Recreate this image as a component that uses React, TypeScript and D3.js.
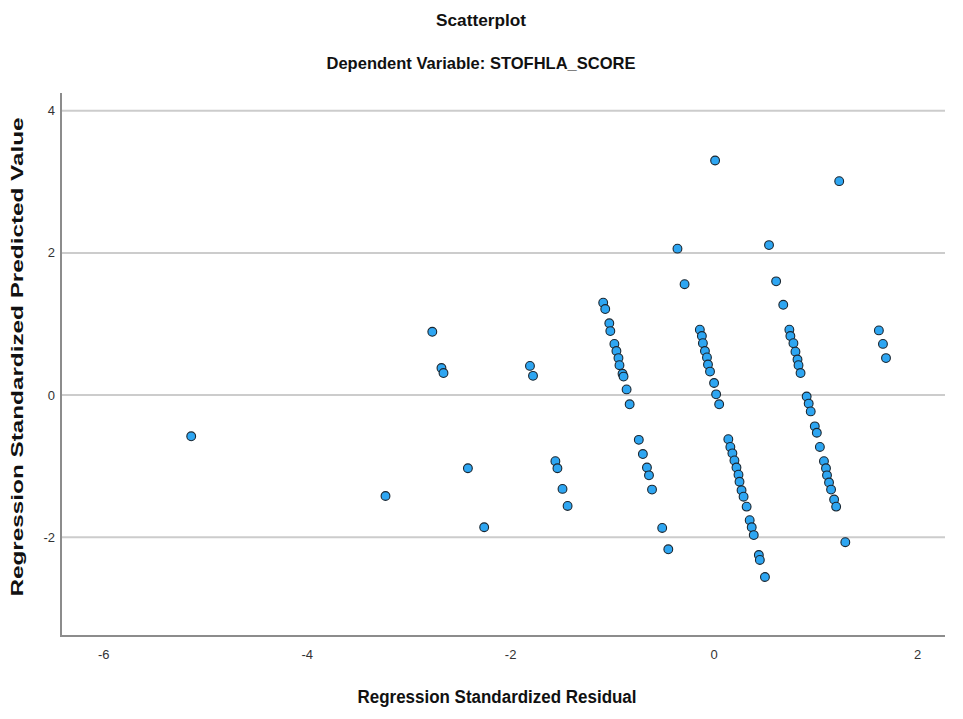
import * as d3 from "d3";
import { useEffect, useRef } from "react";

// residuals (x) and predicted values (y)
const residual = [
  -5.14, -3.23, -2.77, -2.68, -2.66, -2.42, -2.26, -1.81, -1.78, -1.56, -1.54, -1.49, -1.44,
  -1.09, -1.07, -1.03, -1.02, -0.98, -0.96, -0.94, -0.93, -0.9, -0.89, -0.86, -0.83,
  -0.74, -0.7, -0.66, -0.64, -0.61, -0.51, -0.45,
  -0.36, -0.29, 0.01, -0.14, -0.12, -0.11, -0.09, -0.07, -0.06, -0.04, 0.0, 0.02, 0.05,
  0.14, 0.16, 0.18, 0.2, 0.22, 0.24, 0.25, 0.27, 0.29, 0.32, 0.35, 0.37, 0.39, 0.44, 0.45, 0.5,
  0.54, 0.61, 0.68, 1.23,
  0.74, 0.75, 0.78, 0.8, 0.82, 0.83, 0.85,
  0.91, 0.93, 0.95, 0.99, 1.01, 1.04, 1.08, 1.1, 1.11, 1.13, 1.15, 1.18, 1.2, 1.29,
  1.62, 1.66, 1.69,
];
const predicted = [
  -0.58, -1.42, 0.89, 0.38, 0.31, -1.03, -1.86, 0.41, 0.27, -0.93, -1.03, -1.32, -1.56,
  1.3, 1.21, 1.01, 0.9, 0.72, 0.62, 0.52, 0.42, 0.3, 0.26, 0.08, -0.13,
  -0.63, -0.83, -1.02, -1.13, -1.33, -1.87, -2.17,
  2.06, 1.56, 3.3, 0.92, 0.83, 0.73, 0.62, 0.53, 0.43, 0.33, 0.17, 0.01, -0.13,
  -0.62, -0.73, -0.82, -0.92, -1.02, -1.12, -1.22, -1.34, -1.43, -1.57, -1.76, -1.86, -1.97, -2.25, -2.32, -2.56,
  2.11, 1.6, 1.27, 3.01,
  0.92, 0.83, 0.73, 0.61, 0.5, 0.42, 0.31,
  -0.02, -0.12, -0.23, -0.44, -0.53, -0.73, -0.93, -1.03, -1.13, -1.23, -1.33, -1.47, -1.57, -2.07,
  0.91, 0.72, 0.52,
];
const xTicks = [-6, -4, -2, 0, 2];
const yTicks = [-2, 0, 2, 4];

const App = () => {
  const ref = useRef<SVGSVGElement>(null);

  useEffect(() => {
    const left = 61, right = 945, top = 93, bottom = 636;
    const svg = d3.select(ref.current);
    svg.selectAll("*").remove();

    const x = d3.scaleLinear().domain([-6.42, 2.27]).range([left, right]);
    const y = d3.scaleLinear().domain([-3.39, 4.25]).range([bottom, top]);

    // gridlines
    svg
      .append("g")
      .selectAll("line")
      .data(yTicks)
      .join("line")
      .attr("x1", left)
      .attr("x2", right)
      .attr("y1", (d) => y(d))
      .attr("y2", (d) => y(d))
      .attr("stroke", "#cccccc")
      .attr("stroke-width", 2);

    // frame (left + bottom)
    svg
      .append("path")
      .attr("d", `M${left},${top}V${bottom}H${right}`)
      .attr("fill", "none")
      .attr("stroke", "#8c8c8c")
      .attr("stroke-width", 2);

    const tickFont = "'Liberation Sans Narrow', 'Arial Narrow', 'Liberation Sans', Arial, sans-serif";

    svg
      .append("g")
      .selectAll("text")
      .data(yTicks)
      .join("text")
      .attr("x", 55)
      .attr("y", (d) => y(d))
      .attr("dy", "0.35em")
      .attr("text-anchor", "end")
      .attr("font-family", tickFont)
      .attr("font-size", 13)
      .attr("fill", "#333")
      .text((d) => d);

    svg
      .append("g")
      .selectAll("text")
      .data(xTicks)
      .join("text")
      .attr("x", (d) => x(d))
      .attr("y", 654)
      .attr("dy", "0.35em")
      .attr("text-anchor", "middle")
      .attr("font-family", tickFont)
      .attr("font-size", 13)
      .attr("fill", "#333")
      .text((d) => d);

    // points
    svg
      .append("g")
      .selectAll("circle")
      .data(residual.map((r, i) => [r, predicted[i]]))
      .join("circle")
      .attr("cx", (d) => x(d[0]))
      .attr("cy", (d) => y(d[1]))
      .attr("r", 4.4)
      .attr("fill", "#2ea6f2")
      .attr("stroke", "#1a2630")
      .attr("stroke-width", 1.1);

    // titles
    const addText = (t, cx, cy, size, len, rotate = false) => {
      const el = svg
        .append("text")
        .attr("x", cx)
        .attr("y", cy)
        .attr("dy", "0.35em")
        .attr("text-anchor", "middle")
        .attr("font-family", "'Liberation Sans', Arial, sans-serif")
        .attr("font-weight", "bold")
        .attr("font-size", size)
        .attr("fill", "#111")
        .attr("textLength", len)
        .attr("lengthAdjust", "spacingAndGlyphs")
        .text(t);
      if (rotate) el.attr("transform", `rotate(-90,${cx},${cy})`);
    };
    addText("Scatterplot", 481, 20, 17, 90);
    addText("Dependent Variable: STOFHLA_SCORE", 481, 63, 17, 309);
    addText("Regression Standardized Residual", 497, 697, 18, 279);
    addText("Regression Standardized Predicted Value", 17, 357, 17, 479, true);
  }, []);

  return (
    <svg
      ref={ref}
      width={963}
      height={719}
      style={{ position: "absolute", left: 0, top: 0, background: "#fff" }}
    />
  );
};

export default App;
